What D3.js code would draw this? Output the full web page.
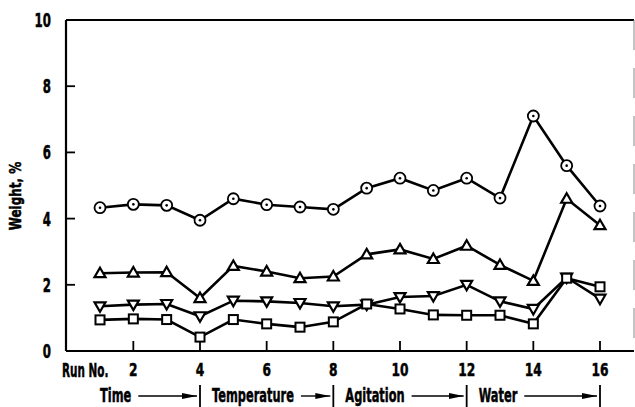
<!DOCTYPE html>
<html>
<head>
<meta charset="utf-8">
<script src="https://cdn.jsdelivr.net/npm/d3@7"></script>
<style>
  body { margin: 0; background: #fff; }
  text { font-family: "DejaVu Sans", sans-serif; font-weight: bold; fill: #000; stroke: #000; stroke-width: 0.5px; }
</style>
</head>
<body>
<script>
// run numbers and the four measured series (weight, %)
var runs = [1, 2, 3, 4, 5, 6, 7, 8, 9, 10, 11, 12, 13, 14, 15, 16];
var circles = [4.33, 4.43, 4.4, 3.95, 4.6, 4.42, 4.35, 4.28, 4.92, 5.22, 4.85, 5.22, 4.62, 7.1, 5.6, 4.38];
var trianglesUp = [2.35, 2.37, 2.38, 1.6, 2.57, 2.4, 2.2, 2.25, 2.92, 3.07, 2.78, 3.18, 2.6, 2.12, 4.6, 3.8];
var trianglesDown = [1.35, 1.4, 1.42, 1.05, 1.52, 1.5, 1.45, 1.35, 1.4, 1.63, 1.66, 2.0, 1.5, 1.27, 2.22, 1.58];
var squares = [0.94, 0.97, 0.95, 0.42, 0.95, 0.82, 0.72, 0.88, 1.42, 1.27, 1.09, 1.08, 1.08, 0.82, 2.2, 1.94];

var xTicks = [2, 4, 6, 8, 10, 12, 14, 16];
var yTicks = [0, 2, 4, 6, 8, 10];
var groups = [
  { label: "Time", end: 4 },
  { label: "Temperature", end: 8 },
  { label: "Agitation", end: 12 },
  { label: "Water", end: 16 }
];

var W = 635, H = 407;
var svg = d3.select("body").append("svg")
    .attr("width", W)
    .attr("height", H);

var x = d3.scaleLinear().domain([1, 16]).range([100, 600]);
var y = d3.scaleLinear().domain([0, 10]).range([351, 20]);
var left = 66, right = 634;

// condensed-looking text: squeeze DejaVu Bold horizontally
function label(px, py, str, size, sx, anchor) {
  return svg.append("text")
    .attr("transform", "translate(" + px + "," + py + ") scale(" + sx + ",1)")
    .attr("text-anchor", anchor || "start")
    .style("font-size", size + "px")
    .text(str);
}

// frame
svg.append("line").attr("x1", left).attr("x2", right).attr("y1", y(10)).attr("y2", y(10))
   .attr("stroke", "#000").attr("stroke-width", 2);
svg.append("line").attr("x1", left).attr("x2", left).attr("y1", y(10)).attr("y2", y(0))
   .attr("stroke", "#000").attr("stroke-width", 2.2);
svg.append("line").attr("x1", left).attr("x2", right).attr("y1", y(0)).attr("y2", y(0))
   .attr("stroke", "#000").attr("stroke-width", 2.2);
svg.append("line").attr("x1", right).attr("x2", right).attr("y1", y(10)).attr("y2", y(0))
   .attr("stroke", "#888").attr("stroke-width", 1).attr("stroke-dasharray", "30,18");

// y ticks (inward) and labels
svg.selectAll(".ytick").data(yTicks.filter(function (d) { return d > 0 && d < 10; }))
  .enter().append("line")
  .attr("x1", left).attr("x2", left + 9)
  .attr("y1", function (d) { return y(d); }).attr("y2", function (d) { return y(d); })
  .attr("stroke", "#000").attr("stroke-width", 1.8);

yTicks.forEach(function (d) {
  label(51, y(d) + 7, d, 19, 0.62, "end");
});

svg.append("text")
  .attr("transform", "translate(21,196) rotate(-90) scale(0.8,1)")
  .attr("text-anchor", "middle")
  .style("font-size", "15px")
  .text("Weight, %");

// x ticks (inward) and labels
svg.selectAll(".xtick").data(xTicks)
  .enter().append("line")
  .attr("x1", function (d) { return x(d); }).attr("x2", function (d) { return x(d); })
  .attr("y1", y(0)).attr("y2", y(0) - 10)
  .attr("stroke", "#000").attr("stroke-width", 1.8);

xTicks.forEach(function (d) {
  label(x(d), 376, d, 18, 0.68, "middle");
});
label(62, 377, "Run No.", 19, 0.55);

// experiment groups with arrows and separators
svg.append("defs").append("marker")
  .attr("id", "arr").attr("viewBox", "0 0 15 6")
  .attr("refX", 15).attr("refY", 3)
  .attr("markerWidth", 15).attr("markerHeight", 6)
  .attr("markerUnits", "userSpaceOnUse")
  .attr("orient", "auto")
  .append("path").attr("d", "M0,0L15,3L0,6Z").attr("fill", "#000");

groups.forEach(function (g) {
  var start = g.end - 4;
  var tx = start === 0 ? x(1) : x(start) + 12;
  var t = label(tx, 402, g.label, 19, 0.6);
  var tw = t.node().getComputedTextLength() * 0.6;
  svg.append("line")
    .attr("x1", tx + tw + 7).attr("x2", x(g.end) - 3)
    .attr("y1", 396).attr("y2", 396)
    .attr("stroke", "#000").attr("stroke-width", 1.4)
    .attr("marker-end", "url(#arr)");
  svg.append("line")
    .attr("x1", x(g.end)).attr("x2", x(g.end))
    .attr("y1", 385).attr("y2", 407)
    .attr("stroke", "#000").attr("stroke-width", 1.8);
});

// series lines
var series = [
  { values: circles, shape: "circle" },
  { values: trianglesUp, shape: "up" },
  { values: trianglesDown, shape: "down" },
  { values: squares, shape: "square" }
];

var line = d3.line()
  .x(function (d) { return x(d[0]); })
  .y(function (d) { return y(d[1]); });

series.forEach(function (s) {
  var pts = runs.map(function (r, i) { return [r, s.values[i]]; });
  svg.append("path").datum(pts)
    .attr("d", line)
    .attr("fill", "none").attr("stroke", "#000").attr("stroke-width", 2.6);
});

// markers
series.forEach(function (s) {
  var pts = runs.map(function (r, i) { return [r, s.values[i]]; });
  var g = svg.append("g");
  var m = g.selectAll("g").data(pts).enter().append("g")
    .attr("transform", function (d) { return "translate(" + x(d[0]) + "," + y(d[1]) + ")"; });
  if (s.shape === "circle") {
    m.append("circle").attr("r", 5.5).attr("fill", "#fff").attr("stroke", "#000").attr("stroke-width", 1.8);
    m.append("circle").attr("r", 1.3).attr("fill", "#000");
  } else if (s.shape === "up") {
    m.append("path").attr("d", "M0,-5.5L5.5,4L-5.5,4Z")
      .attr("fill", "#fff").attr("stroke", "#000").attr("stroke-width", 2.2).attr("stroke-linejoin", "miter");
  } else if (s.shape === "down") {
    m.append("path").attr("d", "M0,5.5L5.5,-4L-5.5,-4Z")
      .attr("fill", "#fff").attr("stroke", "#000").attr("stroke-width", 2.2).attr("stroke-linejoin", "miter");
  } else {
    m.append("rect").attr("x", -4.5).attr("y", -4.5).attr("width", 9).attr("height", 9)
      .attr("fill", "#fff").attr("stroke", "#000").attr("stroke-width", 2);
  }
});
</script>
</body>
</html>
